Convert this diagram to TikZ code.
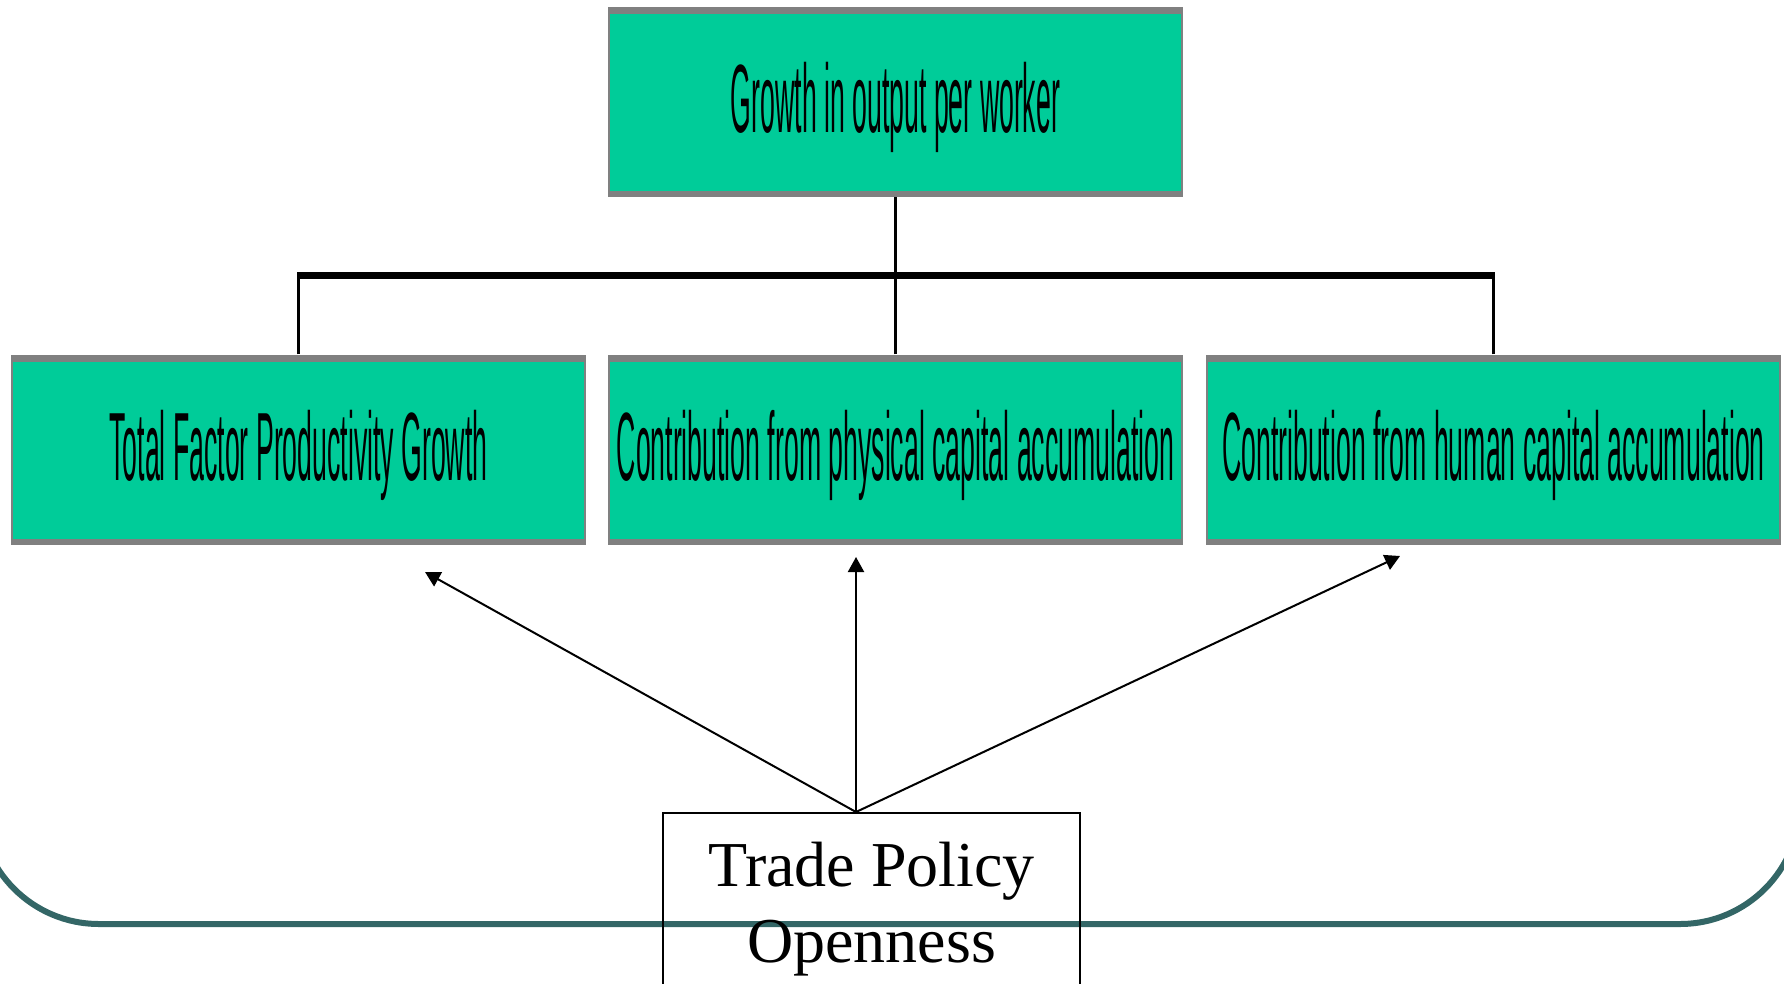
\documentclass[tikz,border=0pt]{standalone}
\usepackage{fontspec}
\usepackage{graphicx}
\setmainfont{Liberation Serif}
\newfontfamily\arialf{Liberation Sans}
\usetikzlibrary{arrows.meta,calc}
\definecolor{boxgreen}{HTML}{00CC99}
\definecolor{boxgray}{HTML}{808080}
\definecolor{frameteal}{HTML}{336666}
\newcommand{\squish}[1]{\scalebox{0.275}[1]{#1}}
\tikzset{
  greenbox/.style={fill=boxgray, minimum width=575pt, minimum height=190pt, inner sep=0pt,
    text height=62pt, text depth=0pt,
    font=\arialf\fontsize{97}{105}\selectfont,
    path picture={\fill[boxgreen] ([xshift=2pt,yshift=-7pt]path picture bounding box.north west) rectangle ([xshift=-2pt,yshift=6pt]path picture bounding box.south east);}},
  tradebox/.style={draw=black, line width=2pt, align=center, anchor=north, minimum width=417pt,
    inner ysep=29pt, font=\fontsize{64}{76}\selectfont},
  conn/.style={line width=2.2pt, black},
  barline/.style={line width=6.5pt, black},
  arr/.style={-{Triangle[length=15pt,width=16pt]}, line width=2pt, black},
  frameline/.style={draw=frameteal, line width=6pt, rounded corners=120pt}
}
\begin{document}
\begin{tikzpicture}[x=1pt,y=-1pt]
\useasboundingbox (0,0) rectangle (1784,984);
\clip (0,0) rectangle (1784,984);
% teal frame
\draw[frameline] (-21,500) -- (-21,924) -- (1800,924) -- (1800,500);
% boxes
\node[greenbox] (top) at (895.5,102) {\squish{Growth in output per worker}};
\node[greenbox] (b1) at (298.5,449.5) {\squish{Total Factor Productivity Growth}};
\node[greenbox] (b2) at (895.5,449.5) {\squish{Contribution from physical capital accumulation}};
\node[greenbox] (b3) at (1493.5,449.5) {\squish{Contribution from human capital accumulation}};
% tree connectors
\coordinate (barc) at (895.5,275.7);
\draw[conn] (top.south) -- (top.south |- barc);
\draw[conn] (b1.north) -- (b1.north |- barc);
\draw[conn] (b2.north) -- (b2.north |- barc);
\draw[conn] (b3.north) -- (b3.north |- barc);
\draw[barline] ($(b1.north |- barc)+(-1.2,0)$) -- ($(b3.north |- barc)+(1.2,0)$);
% trade policy box
\node[tradebox] (trade) at (871.5,812) {Trade Policy\\Openness};
\coordinate (src) at (856,812);
\coordinate (t1) at (425,572);
\coordinate (t2) at (856,557);
\coordinate (t3) at (1400,556);
\draw[arr] (src) -- (t1);
\draw[arr] (src) -- (t2);
\draw[arr] (src) -- (t3);
\end{tikzpicture}
\end{document}
